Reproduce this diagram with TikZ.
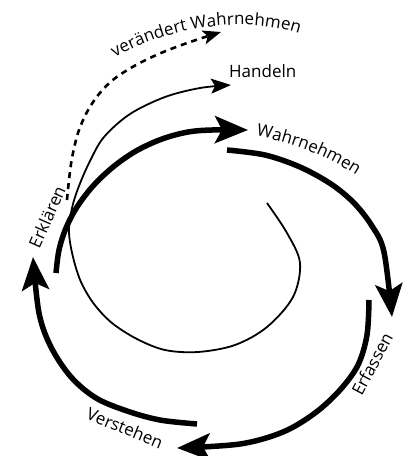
\documentclass[tikz,border=0pt]{standalone}
\usepackage{fontspec}
\setmainfont{Open Sans}
\usetikzlibrary{arrows.meta,decorations.text}
\begin{document}
\begin{tikzpicture}[x=1pt,y=-1pt,
  big/.style={line width=5.5pt, -{Stealth[length=33pt,width=27pt,inset=7pt]}},
  fine/.style={line width=1.8pt, -{Stealth[length=20pt,width=15pt,inset=4pt]}},
  dashline/.style={line width=2.6pt, dash pattern=on 6pt off 5pt, -{Stealth[length=18pt,width=14pt,inset=4pt]}},
  lbl/.style={font=\fontsize{17}{20}\selectfont, inner sep=0pt},
  curvetext/.style={decorate, decoration={text along path, text align=left, text={|\fontsize{17}{20}\selectfont|#1}}}
]
\useasboundingbox (0,0) rectangle (406,456);

% thin spiral ending in Handeln arrow
\draw[fine] plot[smooth, tension=0.55] coordinates {
 (267,203) (287,233) (300,263) (293,297) (267,327) (235,345) (198,352)
 (165,350) (137,339) (112,323) (94,304) (81,282) (73,257) (69,232)
 (72,208) (79,186) (90,161) (104,137) (130,114) (165,97) (200,88) (231,85)};

% dashed arrow
\draw[dashline] plot[smooth, tension=0.55] coordinates {
 (67,200) (69,180) (72,158) (78,133) (87,112) (99,94) (114,79) (136,65) (161,53) (190,42) (221,32)};

% thick cycle arcs
\draw[big] plot[smooth, tension=0.55] coordinates {
 (227,150) (265,155) (300,167) (331,184) (354,203) (372,226) (384,252) (392,317)};
\draw[big] plot[smooth, tension=0.55] coordinates {
 (369,300) (367,335) (358,365) (340,390) (315,413) (283,432) (240,444) (177,448)};
\draw[big] plot[smooth, tension=0.55] coordinates {
 (197,424) (160,420) (127,411) (96,398) (71,377) (51,347) (39,313) (33,257)};
\draw[big] plot[smooth, tension=0.55] coordinates {
 (56,273) (59,250) (66,228) (77,207) (93,186) (113,167) (136,151) (162,139) (188,132) (212,130) (248,130)};

% labels
\node[lbl, anchor=base west] (handeln) at (229,77) {Handeln};
\node[lbl, rotate=62] (erfassen) at (372,364) {Erfassen};
\node[lbl, rotate=-22] (verstehen) at (125,428) {Verstehen};
\node[lbl, rotate=66] (erklaeren) at (47,217) {Erklären};
\path[curvetext={Wahrnehmen}] (256,136) .. controls (291,142) and (328,156) .. (360,178);
\path[curvetext={verändert Wahrnehmen}] (115,58) .. controls (162,30) and (242,12) .. (306,36);
\end{tikzpicture}
\end{document}
